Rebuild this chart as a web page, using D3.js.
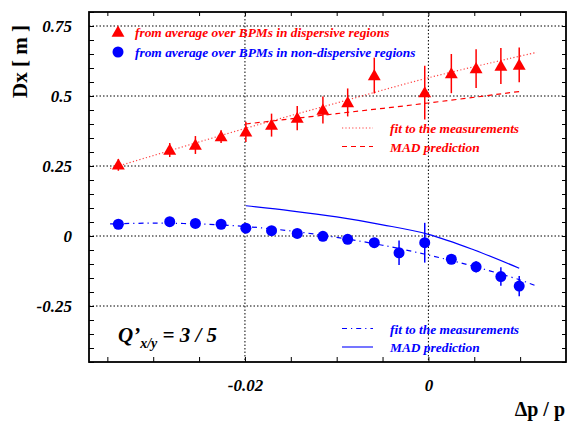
<!DOCTYPE html>
<html>
<head>
<meta charset="utf-8">
<script src="https://cdn.jsdelivr.net/npm/d3@7"></script>
<style>
  html, body { margin: 0; padding: 0; background: #fff; }
  svg { display: block; }
</style>
</head>
<body>
<svg id="chart" width="568" height="422"></svg>
<script>
// ---------------- data ----------------
const redX   = [-0.0338, -0.0282, -0.0254, -0.0226, -0.0199, -0.0171, -0.0143, -0.0115, -0.0088, -0.0059, -0.0004, 0.0025, 0.0052, 0.0079, 0.0099];
const redY   = [0.254, 0.307, 0.325, 0.355, 0.372, 0.396, 0.421, 0.450, 0.477, 0.573, 0.512, 0.580, 0.598, 0.607, 0.611];
const redErr = [0.021, 0.025, 0.032, 0.023, 0.036, 0.041, 0.043, 0.048, 0.050, 0.064, 0.096, 0.070, 0.069, 0.064, 0.062];

const blueX   = [-0.0338, -0.0282, -0.0254, -0.0226, -0.0199, -0.0171, -0.0143, -0.0115, -0.0088, -0.0059, -0.0032, -0.0004, 0.0025, 0.0052, 0.0079, 0.0099];
const blueY   = [0.042, 0.051, 0.045, 0.042, 0.028, 0.019, 0.009, -0.001, -0.012, -0.024, -0.060, -0.024, -0.083, -0.110, -0.145, -0.179];
const blueErr = [0.008, 0.010, 0.008, 0.008, 0.008, 0.008, 0.008, 0.008, 0.008, 0.010, 0.044, 0.071, 0.015, 0.020, 0.033, 0.036];

// fit / prediction curves
const redFitX  = [-0.0347, -0.0200, -0.0100, 0.0000, 0.0118];
const redFitY  = [0.241, 0.384, 0.475, 0.565, 0.656];
const redMadX  = [-0.0199, -0.0100, 0.0000, 0.0099];
const redMadY  = [0.400, 0.437, 0.475, 0.516];
const blueFitX = [-0.0347, -0.0300, -0.0250, -0.0200, -0.0150, -0.0100, -0.0050, 0.0000, 0.0050, 0.0100, 0.0118];
const blueFitY = [0.043, 0.046, 0.043, 0.034, 0.018, -0.005, -0.033, -0.068, -0.109, -0.157, -0.179];
const blueMadX = [-0.0199, -0.0150, -0.0100, -0.0050, 0.0000, 0.0050, 0.0099];
const blueMadY = [0.108, 0.090, 0.068, 0.040, 0.006, -0.050, -0.115];

const xMinorTicks = [-0.035, -0.03, -0.025, -0.02, -0.015, -0.01, -0.005, 0, 0.005, 0.01];
const xLabelTicks = [-0.02, 0];
const xLabelText  = ["-0.02", "0"];
const yMinorTicks = d3.range(-0.45, 0.8001, 0.05).map(v => +v.toFixed(2));
const yLabelTicks = [-0.25, 0, 0.25, 0.5, 0.75];
const yLabelText  = ["-0.25", "0", "0.25", "0.5", "0.75"];

const legendTop = ["from average over BPMs in dispersive regions", "from average over BPMs in non-dispersive regions"];
const legendFit = ["fit to the measurements", "MAD prediction"];

// ---------------- layout ----------------
const RED = "#ff0000", BLUE = "#0000ff";
const serifFont = "'Liberation Serif', 'DejaVu Serif', serif";
const L = 89, R = 566, T = 12, B = 362;
const svg = d3.select("#chart");

const x = d3.scaleLinear().domain([-0.037, 0.015]).range([L, R]);
const y = d3.scaleLinear().domain([-0.45, 0.8]).range([B, T]);

// grid (dotted)
const grid = svg.append("g");
grid.selectAll("line.h").data(yLabelTicks).join("line")
  .attr("x1", L).attr("x2", R).attr("y1", d => y(d)).attr("y2", d => y(d))
  .attr("stroke", "#000").attr("stroke-width", 1).attr("stroke-dasharray", "1.5,2");
grid.selectAll("line.v").data(xLabelTicks).join("line")
  .attr("y1", T).attr("y2", B).attr("x1", d => x(d)).attr("x2", d => x(d))
  .attr("stroke", "#000").attr("stroke-width", 1).attr("stroke-dasharray", "1.5,2");

// axes ticks
function styleAxis(g) {
  g.select(".domain").remove();
  g.selectAll(".tick line").attr("stroke", "#000").attr("stroke-width", 1);
}
svg.append("g").attr("transform", `translate(0,${B})`)
  .call(d3.axisBottom(x).tickValues(xMinorTicks).tickSizeInner(-5).tickSizeOuter(0).tickFormat(""))
  .call(styleAxis);
svg.append("g").attr("transform", `translate(0,${T})`)
  .call(d3.axisTop(x).tickValues(xMinorTicks).tickSizeInner(-4).tickSizeOuter(0).tickFormat(""))
  .call(styleAxis);
svg.append("g").attr("transform", `translate(${L},0)`)
  .call(d3.axisLeft(y).tickValues(yMinorTicks).tickSizeInner(-5).tickSizeOuter(0).tickFormat(""))
  .call(styleAxis);
svg.append("g").attr("transform", `translate(${R},0)`)
  .call(d3.axisRight(y).tickValues(yMinorTicks).tickSizeInner(-4).tickSizeOuter(0).tickFormat(""))
  .call(styleAxis);

// tick labels
const yl = svg.append("g").attr("transform", `translate(${L},0)`)
  .call(d3.axisLeft(y).tickValues(yLabelTicks).tickSize(0).tickPadding(17)
        .tickFormat((d, i) => yLabelText[i]));
yl.select(".domain").remove();
yl.selectAll("text").attr("font-family", serifFont).attr("font-weight", "bold")
  .attr("font-style", "italic").attr("font-size", 17).attr("fill", "#000");

const xl = svg.append("g").attr("transform", `translate(0,${B})`)
  .call(d3.axisBottom(x).tickValues(xLabelTicks).tickSize(0).tickPadding(17)
        .tickFormat((d, i) => xLabelText[i]));
xl.select(".domain").remove();
xl.selectAll("text").attr("font-family", serifFont).attr("font-weight", "bold")
  .attr("font-style", "italic").attr("font-size", 17).attr("fill", "#000");

// axis titles
svg.append("text").attr("transform", "translate(27,25) rotate(-90)")
  .attr("text-anchor", "end").attr("font-family", serifFont).attr("font-weight", "bold")
  .attr("font-size", 21).text("Dx [ m ]");
svg.append("text").attr("x", 565).attr("y", 416).attr("text-anchor", "end")
  .attr("font-family", serifFont).attr("font-weight", "bold").attr("font-size", 20)
  .text("Δp / p");

// curves
const lineGen = d3.line().x(d => x(d[0])).y(d => y(d[1])).curve(d3.curveCatmullRom);
const zip = (a, b) => a.map((v, i) => [v, b[i]]);
const curves = svg.append("g").attr("fill", "none");
curves.append("path").attr("d", lineGen(zip(redFitX, redFitY)))
  .attr("stroke", RED).attr("stroke-width", 1.2).attr("stroke-dasharray", "1.2,2.2").attr("opacity", 0.75);
curves.append("path").attr("d", lineGen(zip(redMadX, redMadY)))
  .attr("stroke", RED).attr("stroke-width", 1.2).attr("stroke-dasharray", "5,4");
curves.append("path").attr("d", lineGen(zip(blueFitX, blueFitY)))
  .attr("stroke", BLUE).attr("stroke-width", 1.2).attr("stroke-dasharray", "5,4,1.2,4");
curves.append("path").attr("d", lineGen(zip(blueMadX, blueMadY)))
  .attr("stroke", BLUE).attr("stroke-width", 1.2);

// error bars
const eb = svg.append("g");
eb.selectAll("line.r").data(zip(redX, redY).map((d, i) => [d[0], d[1], redErr[i]])).join("line")
  .attr("x1", d => x(d[0])).attr("x2", d => x(d[0]))
  .attr("y1", d => y(d[1] - d[2])).attr("y2", d => y(d[1] + d[2]))
  .attr("stroke", RED).attr("stroke-width", 1.5);
eb.selectAll("line.b").data(zip(blueX, blueY).map((d, i) => [d[0], d[1], blueErr[i]])).join("line")
  .attr("x1", d => x(d[0])).attr("x2", d => x(d[0]))
  .attr("y1", d => y(d[1] - d[2])).attr("y2", d => y(d[1] + d[2]))
  .attr("stroke", BLUE).attr("stroke-width", 1.5);

// markers
const tri = d3.symbol().type(d3.symbolTriangle).size(72);
svg.append("g").selectAll("path").data(zip(redX, redY)).join("path")
  .attr("d", tri).attr("transform", d => `translate(${x(d[0])},${y(d[1]) + 1})`)
  .attr("fill", RED);
svg.append("g").selectAll("circle").data(zip(blueX, blueY)).join("circle")
  .attr("cx", d => x(d[0])).attr("cy", d => y(d[1])).attr("r", 5.5).attr("fill", BLUE);

// frame
svg.append("rect").attr("x", L).attr("y", T).attr("width", R - L).attr("height", B - T)
  .attr("fill", "none").attr("stroke", "#000").attr("stroke-width", 1.8);

// top legend
const lt = svg.append("g");
lt.append("path").attr("d", tri).attr("transform", "translate(118,33)").attr("fill", RED);
lt.append("circle").attr("cx", 118).attr("cy", 52).attr("r", 5.5).attr("fill", BLUE);
lt.selectAll("text").data(legendTop).join("text")
  .attr("x", 135).attr("y", (d, i) => 37 + i * 19.5)
  .attr("font-family", serifFont).attr("font-weight", "bold").attr("font-style", "italic")
  .attr("font-size", 13.4).attr("fill", (d, i) => i === 0 ? RED : BLUE).text(d => d);

// bottom-right legends
function fitLegend(y0, color, dashes) {
  const g = svg.append("g");
  g.append("line").attr("x1", 342).attr("x2", 373).attr("y1", y0).attr("y2", y0)
    .attr("stroke", color).attr("stroke-width", 1.2)
    .attr("stroke-dasharray", dashes[0]).attr("opacity", color === RED ? 0.75 : 1);
  g.append("line").attr("x1", 342).attr("x2", 373).attr("y1", y0 + 18.5).attr("y2", y0 + 18.5)
    .attr("stroke", color).attr("stroke-width", dashes[1] === null ? 1.8 : 1.2)
    .attr("stroke-dasharray", dashes[1]).attr("opacity", dashes[1] === null ? 0.6 : 1);
  g.selectAll("text").data(legendFit).join("text")
    .attr("x", 390).attr("y", (d, i) => y0 + 5 + i * 18.5)
    .attr("font-family", serifFont).attr("font-weight", "bold").attr("font-style", "italic")
    .attr("font-size", 13.4).attr("fill", color).text(d => d);
}
fitLegend(128, RED, ["1.2,2.2", "5,4"]);
fitLegend(328.5, BLUE, ["5,4,1.2,4", null]);

// Q' label
const q = svg.append("text").attr("x", 118).attr("y", 342)
  .attr("font-family", serifFont).attr("font-weight", "bold").attr("font-style", "italic")
  .attr("font-size", 21).attr("fill", "#000");
q.append("tspan").text("Q’");
q.append("tspan").attr("font-size", 14).attr("dy", 6).text("x/y");
q.append("tspan").attr("dy", -6).text(" = 3 / 5");
</script>
</body>
</html>
